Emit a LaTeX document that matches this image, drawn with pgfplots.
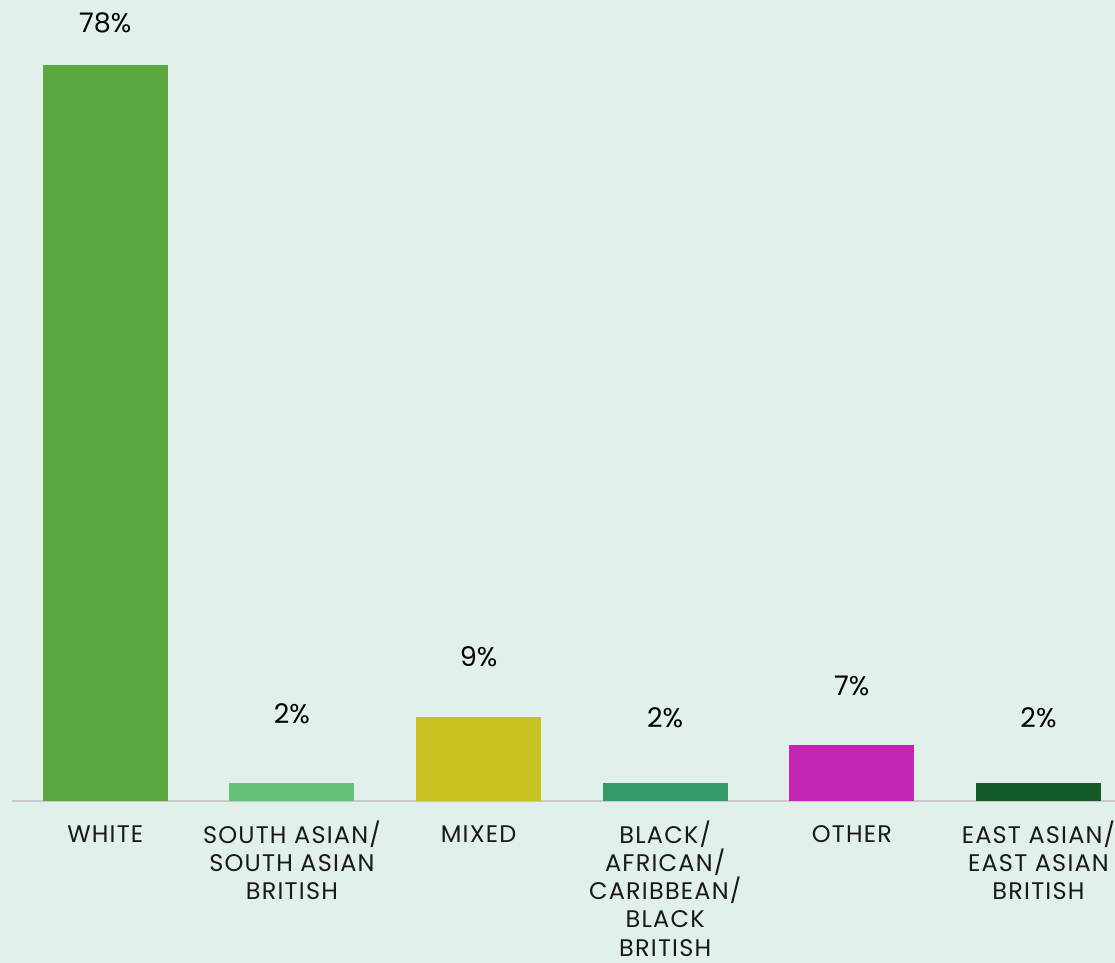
\documentclass[border=0pt]{standalone}
\usepackage{pgfplots}
\pgfplotsset{compat=1.18}
\usepackage{fontspec}
\setmainfont{Poppins}
\definecolor{bgc}{HTML}{E2F0EC}
\definecolor{cwhite}{HTML}{5AA83F}
\definecolor{csa}{HTML}{65C378}
\definecolor{cmix}{HTML}{C9C322}
\definecolor{cblk}{HTML}{349A67}
\definecolor{coth}{HTML}{C425B2}
\definecolor{cea}{HTML}{135A28}
\definecolor{axc}{HTML}{C8C8C8}
\newcommand{\st}{\rule{0pt}{11pt}}
\begin{document}
\begin{tikzpicture}
\fill[bgc] (-6pt,-81pt) rectangle (551.5pt,400.5pt);
\begin{axis}[
  scale only axis,
  width=551.5pt, height=400.5pt,
  xmin=-0.5, xmax=5.41,
  ymin=0, ymax=84.89,
  hide y axis,
  axis x line=bottom,
  axis line style={-, draw=axc, line width=1pt},
  xtick={0,1,2,3,4,5},
  xticklabels={\st WHITE, {\st SOUTH ASIAN/\\SOUTH ASIAN\\BRITISH}, \st MIXED, {\st BLACK/\\AFRICAN/\\CARIBBEAN/\\BLACK\\BRITISH}, \st OTHER, {\st EAST ASIAN/\\EAST ASIAN\\BRITISH}},
  xtick style={draw=none},
  xticklabel style={anchor=north, yshift=-2pt, align=center, font=\fontsize{12}{14.1}\selectfont\addfontfeatures{LetterSpace=5}, text=black!90},
  ybar, bar width=62.5pt, bar shift=0pt,
  clip=false,
]
\addplot[fill=cwhite, draw=none] coordinates {(0,78)};
\addplot[fill=csa, draw=none] coordinates {(1,1.9)};
\addplot[fill=cmix, draw=none] coordinates {(2,8.9)};
\addplot[fill=cblk, draw=none] coordinates {(3,1.9)};
\addplot[fill=coth, draw=none] coordinates {(4,5.9)};
\addplot[fill=cea, draw=none] coordinates {(5,1.9)};
\addplot[only marks, mark=none, point meta=explicit symbolic,
  nodes near coords, nodes near coords align=center,
  nodes near coords style={anchor=center, font=\fontsize{13.5}{16}\selectfont, text=black}]
  table[meta=label] {
x y label
0 82.45 78\%
1 9.22 2\%
2 15.26 9\%
3 8.85 2\%
4 12.24 7\%
5 8.85 2\%
};
\end{axis}
\pgfresetboundingbox
\useasboundingbox (-6pt,-81pt) rectangle (551.5pt,400.5pt);
\end{tikzpicture}
\end{document}
